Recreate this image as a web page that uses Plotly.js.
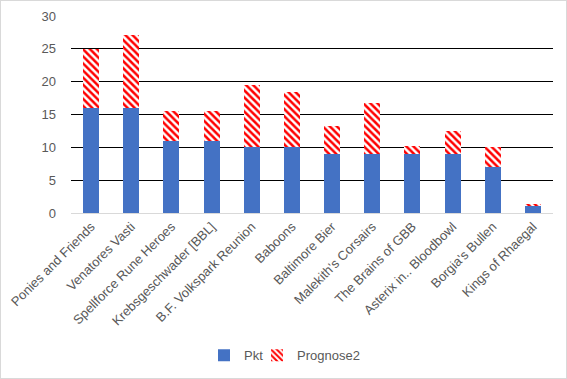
<!DOCTYPE html>
<html>
<head>
<meta charset="utf-8">
<script src="https://cdn.plot.ly/plotly-3.0.1.min.js"></script>
<style>
html,body{margin:0;padding:0;background:#fff;}
#chart{width:567px;height:379px;box-sizing:border-box;border:1px solid #d9d9d9;}
</style>
</head>
<body>
<div id="chart"></div>
<script>
const teams = ["Ponies and Friends","Venatores Vasti","Spellforce Rune Heroes","Krebsgeschwader [BBL]","B.F. Volkspark Reunion","Baboons","Baltimore Bier","Malekith's Corsairs","The Brains of GBB","Asterix in.. Bloodbowl","Borgia's Bullen","Kings of Rhaegal"];
const pkt = [16, 16, 11, 11, 10, 10, 9, 9, 9, 9, 7, 1];
const prognose2 = [9, 11.1, 4.6, 4.6, 9.5, 8.5, 4.3, 7.8, 1.2, 3.5, 3.1, 0.3];
const yTicks = [0, 5, 10, 15, 20, 25, 30];

const font = {family: "Liberation Sans, Arial, sans-serif", size: 13, color: "#595959"};

const data = [
  {type: "bar", name: "Pkt", x: teams, y: pkt, width: 0.4, legend: "legend",
   marker: {color: "#4472C4", line: {width: 0}}},
  {type: "bar", name: "Prognose2", x: teams, y: prognose2, width: 0.4, legend: "legend2",
   marker: {color: "#FF0000", line: {width: 0}, pattern: {shape: "\\", fgcolor: "#FF0000", bgcolor: "#ffffff", size: 5, solidity: 0.5, fillmode: "replace"}}}
];

const legendBase = {orientation: "h", xref: "container", yref: "container", xanchor: "left", y: 0.06, yanchor: "middle", font: font, itemwidth: 30, bgcolor: "rgba(0,0,0,0)"};

const layout = {
  width: 565, height: 377,
  barmode: "stack",
  font: font,
  paper_bgcolor: "#fff", plot_bgcolor: "#fff",
  margin: {l: 70, r: 13, t: 15, b: 165, pad: 0},
  showlegend: true,
  legend: Object.assign({}, legendBase, {x: 203 / 565}),
  legend2: Object.assign({}, legendBase, {x: 256 / 565}),
  xaxis: {type: "category", tickangle: -45, showline: true, linecolor: "#d9d9d9", linewidth: 1, showgrid: false, ticks: "", tickfont: font, fixedrange: true},
  yaxis: {range: [0, 30], tickvals: yTicks, showgrid: true, gridcolor: "#000000", gridwidth: 1, zeroline: false, showline: false, ticks: "", ticklabelstandoff: 14, tickfont: font, fixedrange: true}
};

Plotly.newPlot("chart", data, layout, {displayModeBar: false, staticPlot: true});
</script>
</body>
</html>
